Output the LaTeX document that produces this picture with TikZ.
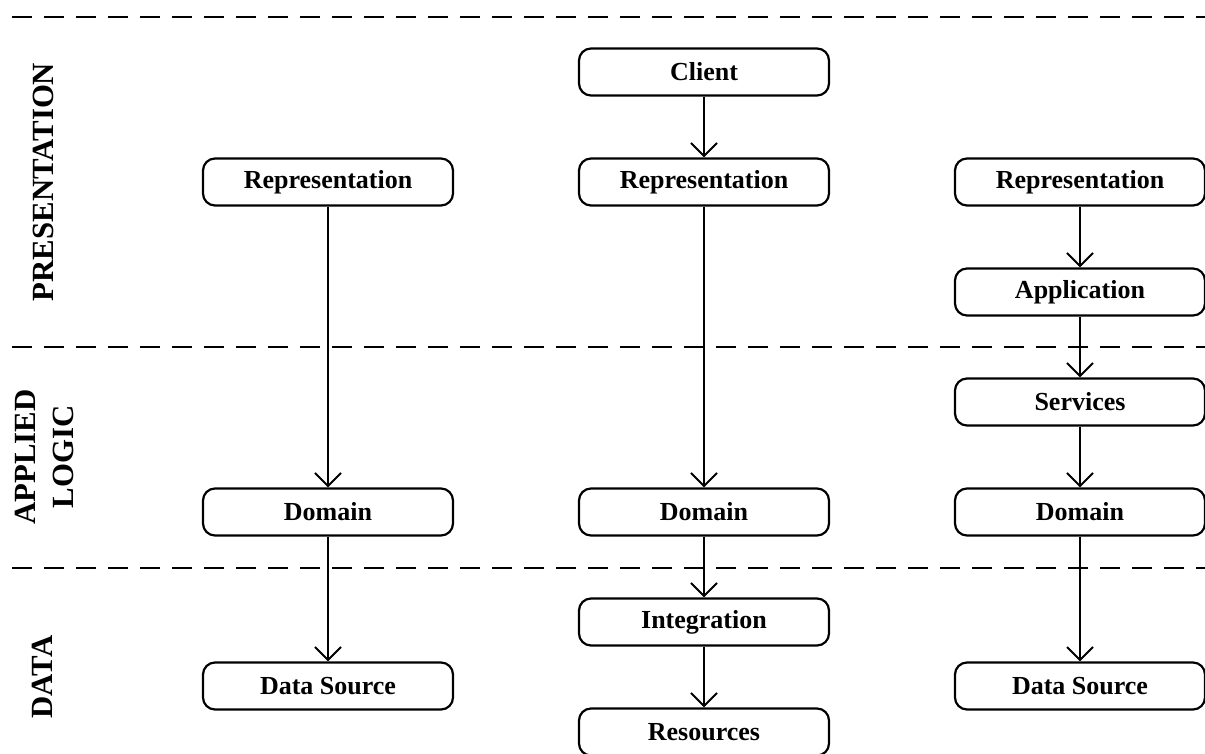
\documentclass[tikz,border=0pt]{standalone}
\usepackage{fontspec}
\setmainfont{Liberation Serif}
\usetikzlibrary{positioning,arrows.meta}
\tikzstyle{B} = [rectangle,
			draw, line width=1.1pt,
			minimum width=125pt, minimum height=23.5pt,
			rounded corners=6pt, inner sep=0pt,
			font=\fontsize{13}{15}\selectfont\bfseries]
\tikzstyle{T} = [rotate=90, align=center,
			font=\fontsize{15.4}{19}\selectfont\bfseries]
\tikzstyle{D} = [line width=1.3pt, dash pattern=on 10pt off 6pt]
\tikzstyle{L} = [draw, line width=1pt, -{Straight Barb[length=6.5pt,width=13pt]}]

\begin{document}
\begin{tikzpicture}[x=0.5pt, y=-0.5pt, node distance=55pt, on grid]

\useasboundingbox (0,0) rectangle (1205,754);

% tier separators
\foreach \y in {17,347,568}
	\draw[D] (12,\y) -- (1215,\y);

\node [T] at (43,182)
(pres)
	{PRESENTATION};

\node [T] at (44,457)
(logic)
	{APPLIED\\LOGIC};

\node [T] at (42,677)
(data)
	{DATA};

% middle column
\node [B] at (704,72)
(mcli)
	{Client};

\node [B, below of =mcli]
(mrep)
	{Representation};

\node [B, below of =mrep, node distance =165pt]
(mdom)
	{Domain};

\node [B, below of =mdom]
(mint)
	{Integration};

\node [B, below of =mint]
(mres)
	{Resources};

% left column
\node [B, left of =mrep, node distance =188pt]
(lrep)
	{Representation};

\node [B, below of =lrep, node distance =165pt]
(ldom)
	{Domain};

\node [B, below of =ldom, node distance =87pt]
(lsrc)
	{Data Source};

% right column
\node [B, right of =mrep, node distance =188pt]
(rrep)
	{Representation};

\node [B, below of =rrep]
(rapp)
	{Application};

\node [B, below of =rapp]
(rsrv)
	{Services};

\node [B, below of =rsrv]
(rdom)
	{Domain};

\node [B, below of =rdom, node distance =87pt]
(rsrc)
	{Data Source};

\path[L] (lrep) -- (ldom);

\path[L] (ldom) -- (lsrc);

\path[L] (mcli) -- (mrep);

\path[L] (mrep) -- (mdom);

\path[L] (mdom) -- (mint);

\path[L] (mint) -- (mres);

\path[L] (rrep) -- (rapp);

\path[L] (rapp) -- (rsrv);

\path[L] (rsrv) -- (rdom);

\path[L] (rdom) -- (rsrc);

\end{tikzpicture}
\end{document}
